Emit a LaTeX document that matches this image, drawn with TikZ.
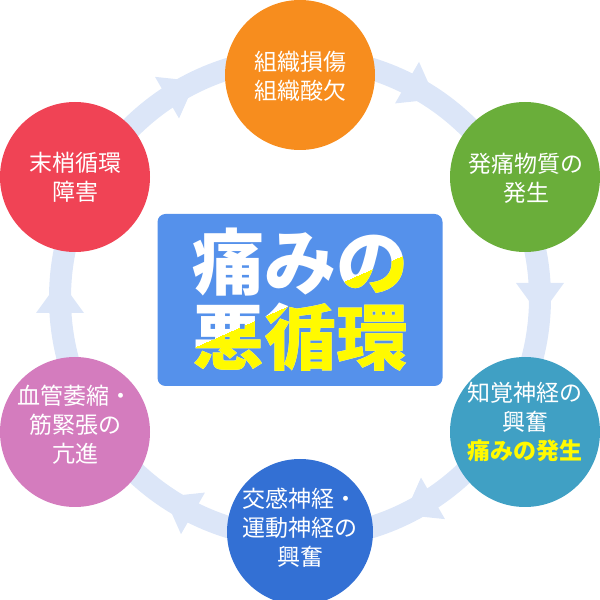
\documentclass[tikz,border=0pt]{standalone}
\usepackage{fontspec}
\newfontfamily\jp{Noto Sans CJK JP}
\usepackage{tikz}
\definecolor{pcring}{RGB}{220,230,248}
\definecolor{pcorange}{RGB}{247,141,30}
\definecolor{pcgreen}{RGB}{106,174,58}
\definecolor{pcteal}{RGB}{64,160,196}
\definecolor{pcblue}{RGB}{51,112,212}
\definecolor{pcpurple}{RGB}{212,124,190}
\definecolor{pcred}{RGB}{240,67,85}
\definecolor{pccore}{RGB}{85,145,235}
\definecolor{pcyellow}{RGB}{255,250,0}

\begin{document}
\begin{tikzpicture}[x=1pt,y=1pt,
  bubble/.style={circle,minimum size=150pt,inner sep=0pt},
  btext/.style={text=white,align=center,font=\jp\fontsize{23}{29}\selectfont},
  coretext/.style={align=center,font=\jp\bfseries\fontsize{72}{75}\selectfont}]
  \useasboundingbox (0,0) rectangle (600,600);
  % ring with arrow heads
  \draw[pcring,line width=22pt] (300,302) circle (240);
  \foreach \a in {60,0,-60,-120,180,120}
    \fill[pcring,shift={(300,302)},rotate=\a] (216,15) -- (264,15) -- (240,-18) -- cycle;
  % the six steps
  \node[bubble,fill=pcorange] (damage) at (300,525) {};
  \node[btext] (damagetxt) at (300,524) {組織損傷\\組織酸欠};
  \node[bubble,fill=pcgreen] (release) at (525,423) {};
  \node[btext] (releasetxt) at (526,422) {発痛物質の\\発生};
  \node[bubble,fill=pcteal] (nerve) at (525,168) {};
  \node[btext] (nervetxt) at (525,178) {知覚神経の\\興奮\\{\bfseries\color{pcyellow}痛みの発生}};
  \node[bubble,fill=pcblue,minimum size=146pt] (motor) at (300,68) {};
  \node[btext] (motortxt) at (300,72) {交感神経・\\運動神経の\\興奮};
  \node[bubble,fill=pcpurple] (spasm) at (75,168) {};
  \node[btext] (spasmtxt) at (75,175) {血管萎縮・\\筋緊張の\\亢進};
  \node[bubble,fill=pcred] (flow) at (75,423) {};
  \node[btext] (flowtxt) at (75,423) {末梢循環\\障害};
  % centre title, white above the slant and yellow below it
  \node[fill=pccore,rounded corners=8pt,minimum width=285pt,minimum height=172pt] (core) at (300,300) {};
  \node[coretext,text=white] (title) at (300,300) {痛みの\\悪循環};
  \begin{scope}
    \clip (150,233) -- (450,365) -- (450,200) -- (150,200) -- cycle;
    \node[coretext,text=pcyellow] (titlelow) at (300,300) {痛みの\\悪循環};
  \end{scope}
\end{tikzpicture}
\end{document}
